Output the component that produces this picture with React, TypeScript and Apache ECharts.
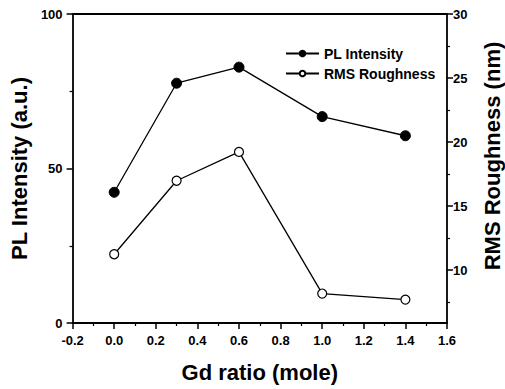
import React, { useEffect, useRef } from "react";
import * as echarts from "echarts";

const gdRatio = [0.0, 0.3, 0.6, 1.0, 1.4];
const plIntensity = [42.3, 77.6, 82.8, 66.8, 60.6];
const rmsRoughness = [11.24, 16.98, 19.23, 8.17, 7.7];
const rightMajorTicks = [10, 15, 20, 25, 30];
const rightMinorTicks = [7.5, 12.5, 17.5, 22.5, 27.5];

const FONT = "'Liberation Sans', Arial, Helvetica, sans-serif";
const BLACK = "#000";

export default function App() {
  const ref = useRef<HTMLDivElement>(null);
  useEffect(() => {
    if (!ref.current) return;
    const chart = echarts.init(ref.current, undefined, { renderer: "svg" });
    const axisLine = { show: true, onZero: false, lineStyle: { color: BLACK, width: 1.8 } };
    const tickLabel = { color: BLACK, fontSize: 13, fontWeight: "bold" as const, fontFamily: FONT };
    const rMin = 5.87;
    const rMax = 30;
    chart.setOption({
      animation: false,
      backgroundColor: "#fff",
      textStyle: { fontFamily: FONT },
      grid: { left: 69, right: 58, top: 14, bottom: 66, containLabel: false },
      legend: {
        orient: "vertical",
        left: 285,
        top: 46,
        padding: 0,
        itemWidth: 33,
        itemHeight: 7,
        itemGap: 5,
        textStyle: { color: BLACK, fontSize: 14, fontWeight: "bold", fontFamily: FONT, lineHeight: 15 },
        data: ["PL Intensity", "RMS Roughness"],
      },
      xAxis: [
        {
          type: "value",
          min: -0.2,
          max: 1.6,
          interval: 0.2,
          axisLine,
          axisTick: { show: true, length: 6, lineStyle: { color: BLACK, width: 1.5 } },
          minorTick: { show: true, splitNumber: 2, length: 3, lineStyle: { color: BLACK, width: 1.2 } },
          axisLabel: { ...tickLabel, margin: 11, formatter: (v: number) => v.toFixed(1) },
          splitLine: { show: false },
          name: "Gd ratio (mole)",
          nameLocation: "middle",
          nameGap: 38,
          nameTextStyle: { color: BLACK, fontSize: 22, fontWeight: "bold", fontFamily: FONT },
        },
        {
          type: "value",
          position: "top",
          min: -0.2,
          max: 1.6,
          interval: 0.2,
          axisLine,
          axisTick: { show: false },
          axisLabel: { show: false },
          splitLine: { show: false },
        },
      ],
      yAxis: [
        {
          type: "value",
          position: "left",
          min: 0,
          max: 100,
          interval: 50,
          axisLine,
          axisTick: { show: true, length: 6, lineStyle: { color: BLACK, width: 1.5 } },
          minorTick: { show: true, splitNumber: 2, length: 3, lineStyle: { color: BLACK, width: 1.2 } },
          axisLabel: { ...tickLabel, margin: 10 },
          splitLine: { show: false },
          name: "PL Intensity (a.u.)",
          nameLocation: "middle",
          nameRotate: 90,
          nameGap: 34,
          nameTextStyle: { color: BLACK, fontSize: 22, fontWeight: "bold", fontFamily: FONT },
        },
        {
          type: "value",
          position: "right",
          min: rMin,
          max: rMax,
          axisLine,
          axisTick: { show: true, length: 6, customValues: rightMajorTicks, lineStyle: { color: BLACK, width: 1.5 } },
          axisLabel: { ...tickLabel, margin: 6, customValues: rightMajorTicks },
          splitLine: { show: false },
        },
        {
          type: "value",
          position: "right",
          min: rMin,
          max: rMax,
          axisLine: { show: false, onZero: false },
          axisTick: { show: true, length: 3, customValues: rightMinorTicks, lineStyle: { color: BLACK, width: 1.2 } },
          axisLabel: { show: false, customValues: rightMinorTicks },
          splitLine: { show: false },
        },
      ],
      graphic: [
        {
          type: "text",
          x: 492,
          y: 156,
          rotation: Math.PI / 2,
          style: {
            text: "RMS Roughness (nm)",
            fill: BLACK,
            font: `bold 22px ${FONT}`,
            textAlign: "center",
            textVerticalAlign: "middle",
          },
        },
      ],
      series: [
        {
          name: "PL Intensity",
          type: "line",
          xAxisIndex: 0,
          yAxisIndex: 0,
          data: gdRatio.map((x, i) => [x, plIntensity[i]]),
          symbol: "circle",
          symbolSize: 10,
          itemStyle: { color: BLACK, borderColor: BLACK, borderWidth: 1 },
          lineStyle: { color: BLACK, width: 1.3 },
          z: 3,
        },
        {
          name: "RMS Roughness",
          type: "line",
          xAxisIndex: 0,
          yAxisIndex: 1,
          data: gdRatio.map((x, i) => [x, rmsRoughness[i]]),
          symbol: "circle",
          symbolSize: 9,
          itemStyle: { color: "#fff", borderColor: BLACK, borderWidth: 1.2 },
          lineStyle: { color: BLACK, width: 1.3 },
          z: 3,
        },
      ],
    });
    return () => chart.dispose();
  }, []);
  return (
    <div
      ref={ref}
      style={{ position: "fixed", left: 0, top: 0, width: 505, height: 389, background: "#fff" }}
    />
  );
}
